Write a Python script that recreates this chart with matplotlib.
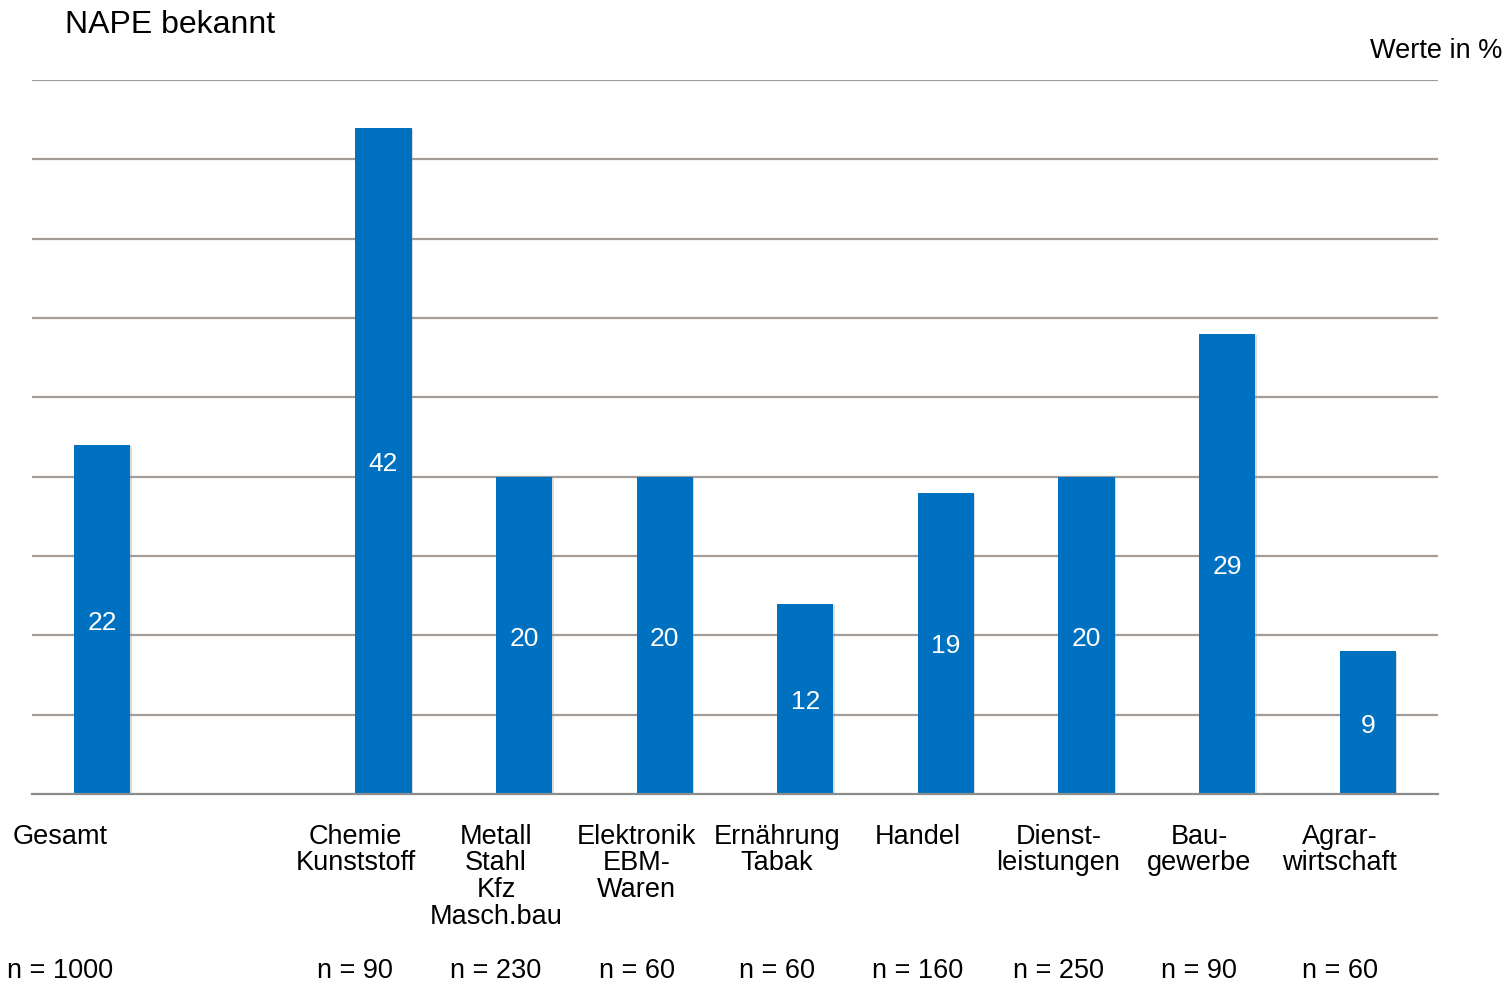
import matplotlib.pyplot as plt
import matplotlib.patheffects as pe

categories = ['Gesamt', '', 'Chemie\nKunststoff', 'Metall\nStahl\nKfz\nMasch.bau',
              'Elektronik\nEBM-\nWaren', 'Ernährung\nTabak', 'Handel',
              'Dienst-\nleistungen', 'Bau-\ngewerbe', 'Agrar-\nwirtschaft']
values = [22, None, 42, 20, 20, 12, 19, 20, 29, 9]
n_labels = ['n = 1000', '', 'n = 90', 'n = 230', 'n = 60', 'n = 60',
            'n = 160', 'n = 250', 'n = 90', 'n = 60']

plt.rcParams['font.family'] = ['Liberation Sans', 'DejaVu Sans']

fig = plt.figure(figsize=(15.1, 9.85), dpi=100)
ax = fig.add_axes([32/1510, 1-794/985, 1406/1510, 714/985])

blue = '#0070C0'
xs = [i for i, v in enumerate(values) if v is not None]
vs = [v for v in values if v is not None]
bars = ax.bar(xs, vs, width=0.4, color=blue, zorder=3)
for b in bars:
    b.set_path_effects([pe.SimplePatchShadow(offset=(1, -1), shadow_rgbFace='#999999', alpha=0.35),
                        pe.Normal()])

# values in the middle of each bar
for x, v in zip(xs, vs):
    ax.text(x, v/2 - 0.2, str(v), ha='center', va='center', color='white', fontsize=19, zorder=4)

ax.set_xlim(-0.5, len(values)-0.5)
ax.set_ylim(0, 45)
ax.set_yticks(range(5, 50, 5))
ax.yaxis.grid(True, color='#a49c96', linewidth=1.6, zorder=0)
ax.tick_params(left=False, bottom=False, labelleft=False, labelbottom=False)
for s in ['top', 'right', 'left']:
    ax.spines[s].set_visible(False)
ax.spines['bottom'].set_color('#8c8c8c')
ax.spines['bottom'].set_linewidth(1.6)
ax.spines['bottom'].set_zorder(5)

# category and n labels below the axis
for i, (c, n) in enumerate(zip(categories, n_labels)):
    lx = i - 0.2 if i > 0 else -0.3
    ax.text(lx, -1.88, c, ha='center', va='top', fontsize=19.5, linespacing=1.03,
            clip_on=False)
    ax.text(lx, -11.15, n, ha='center', va='center', fontsize=19.5, clip_on=False)

fig.text(65/1510, 1-25/985, 'NAPE bekannt', ha='left', va='center', fontsize=23)
fig.text(1502/1510, 1-51/985, 'Werte in %', ha='right', va='center', fontsize=19.5)

fig.savefig('out.png', dpi=100)
